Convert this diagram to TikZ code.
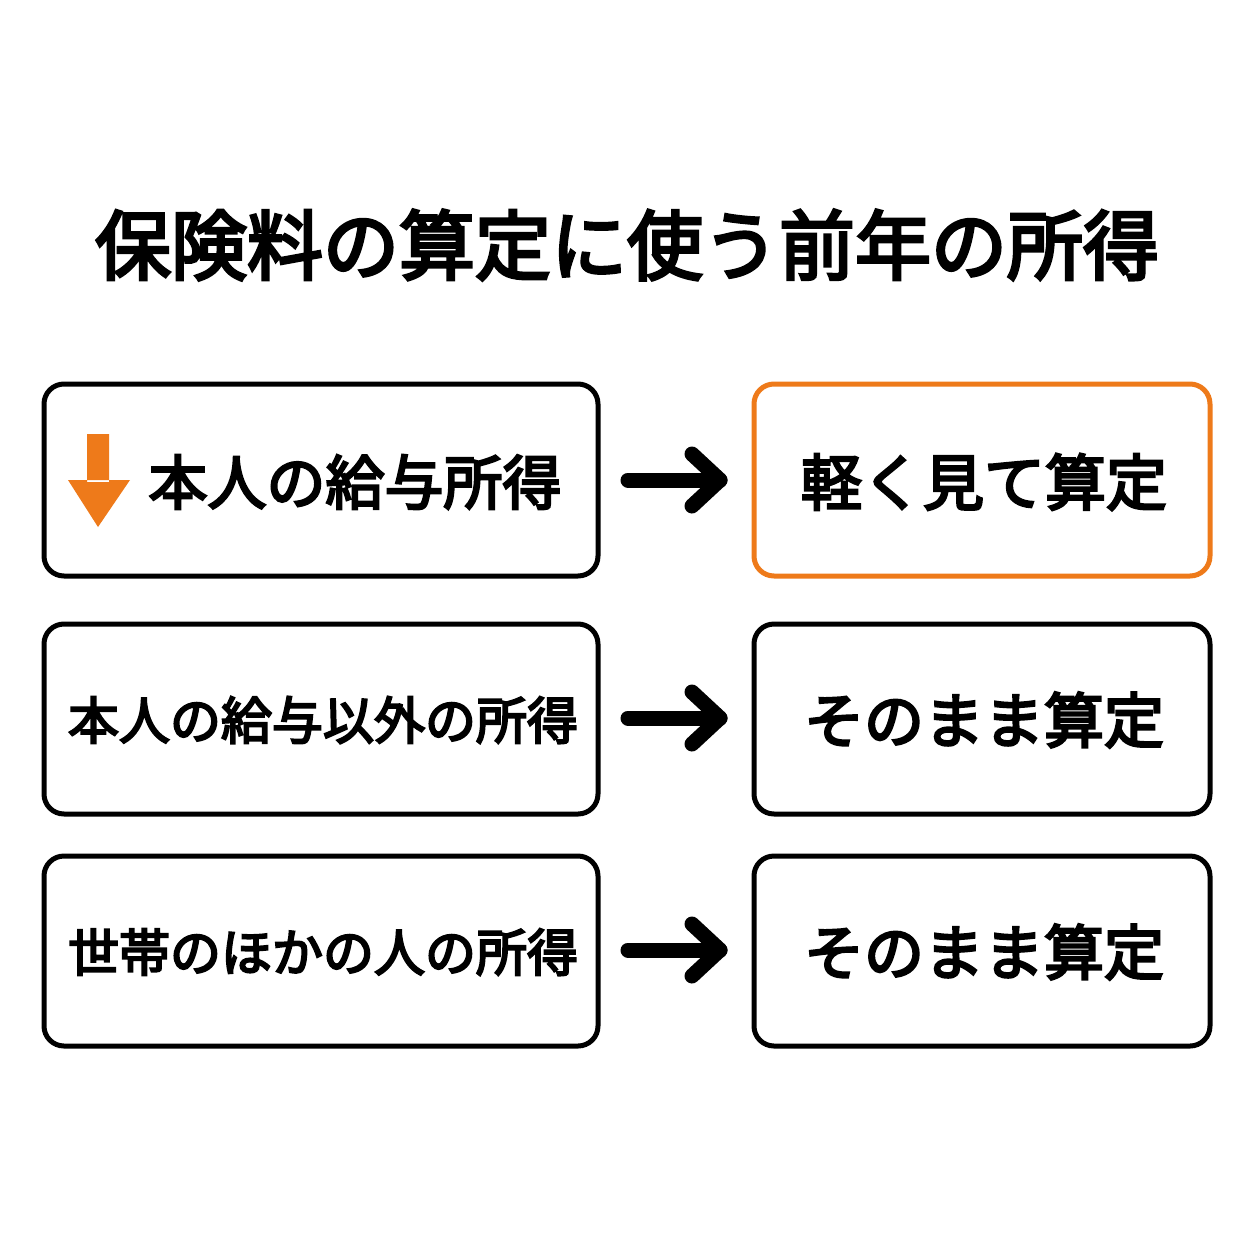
\documentclass[tikz,border=0pt]{standalone}
\usepackage{fontspec}
\usetikzlibrary{calc}
\newfontfamily\cjk{Noto Sans CJK JP}[AutoFakeBold=4]
\definecolor{org}{HTML}{EE7A1A}
\begin{document}
\begin{tikzpicture}[x=1pt,y=-1pt,
  box/.style={draw=black,line width=5pt,rounded corners=20pt,fill=white},
  obox/.style={draw=org,line width=5pt,rounded corners=20pt,fill=white},
  lbl/.style={font=\cjk\bfseries\fontsize{#1}{#1}\selectfont,inner sep=0pt},
  arr/.style={line width=15pt,line cap=round,line join=round}]
\useasboundingbox (0,0) rectangle (1254,1254);
\node[lbl=76] (title) at (627,245) {保険料の算定に使う前年の所得};
\path[box] (44,384) rectangle (598,576);
\path[box] (44,624) rectangle (598,814);
\path[box] (44,856) rectangle (598,1046);
\path[obox] (754,384) rectangle (1210,576);
\path[box] (754,624) rectangle (1210,814);
\path[box] (754,856) rectangle (1210,1046);
\node[lbl=59] (l1) at (355,482) {本人の給与所得};
\node[lbl=51] (l2) at (323,720) {本人の給与以外の所得};
\node[lbl=51] (l3) at (323,952) {世帯のほかの人の所得};
\node[lbl=61] (r1) at (984,482) {軽く見て算定};
\node[lbl=60] (r2) at (984,720) {そのまま算定};
\node[lbl=60] (r3) at (984,952) {そのまま算定};
\fill[org] (87,434) rectangle (109,482) (68,480) -- (130,480) -- (98,527) -- cycle;
\foreach \y/\n in {480/a1,718/a2,950/a3}{
  \coordinate (\n s) at (628,\y); \coordinate (\n e) at (720,\y);
  \draw[arr] (\n s) -- (\n e);
  \draw[arr] ($(\n e)+(-28,-26)$) -- (\n e) -- ($(\n e)+(-28,26)$);
}
\end{tikzpicture}
\end{document}
